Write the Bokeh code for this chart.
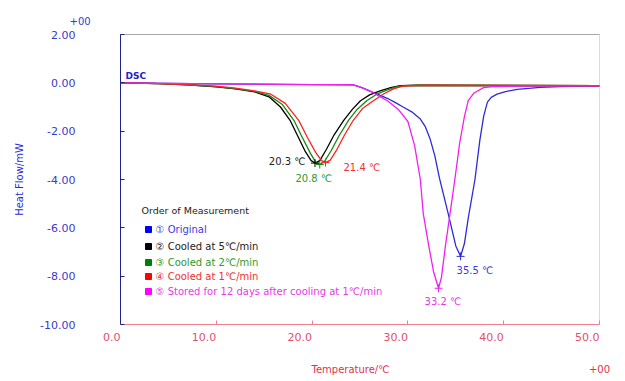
from bokeh.plotting import figure
from bokeh.models import (Range1d, LinearAxis, FixedTicker, NumeralTickFormatter,
                          ColumnDataSource, Grid, Title)
from bokeh.embed import file_html
from bokeh.resources import INLINE
from bokeh.core.properties import value

# ---------------- data ----------------
x_ticks = [0, 10, 20, 30, 40, 50]
y_ticks = [2, 0, -2, -4, -6, -8, -10]
exponent_text = "+00"
x_title = "Temperature/℃"
y_title = "Heat Flow/mW"

series_names = ["① Original", "② Cooled at 5℃/min", "③ Cooled at 2℃/min",
                "④ Cooled at 1℃/min", "⑤ Stored for 12 days after cooling at 1℃/min"]

orig_T = [0, 10, 20, 24.3, 25.2, 26.1, 27.0, 27.9, 28.7, 29.5, 30.4, 31.3, 31.8, 32.3,
          32.8, 33.3, 34.2, 35.0, 35.5, 35.9, 36.3, 37.0, 37.5, 37.9, 38.3, 38.7, 39.3,
          40.2, 41.4, 43.8, 45.9, 50]
orig_HF = [0.0, -0.04, -0.07, -0.08, -0.2, -0.35, -0.5, -0.65, -0.82, -1.0, -1.2, -1.5,
           -1.8, -2.3, -3.0, -3.95, -5.4, -6.75, -7.18, -6.65, -5.6, -4.0, -2.4, -1.4,
           -0.8, -0.6, -0.47, -0.36, -0.27, -0.19, -0.16, -0.13]

c5_T = [0, 4, 7, 10, 12, 14, 15.5, 16.7, 17.7, 18.5, 19.3, 19.9, 20.3, 20.8, 21.5, 22.3,
        23.3, 24.2, 25.05, 26.0, 27.1, 28.2, 29.2, 31, 40, 50]
c5_HF = [0.0, -0.03, -0.08, -0.17, -0.25, -0.37, -0.58, -1.0, -1.55, -2.2, -2.85, -3.22,
         -3.32, -3.22, -2.75, -2.15, -1.55, -1.1, -0.74, -0.5, -0.33, -0.2, -0.12, -0.1,
         -0.11, -0.12]

c2_T = [0, 4, 7, 10, 12, 14, 15.5, 16.9, 18.1, 18.9, 19.8, 20.4, 20.8, 21.3, 22.0, 22.8,
        23.8, 24.7, 25.7, 26.7, 27.8, 28.7, 29.6, 31.5, 40, 50]
c2_HF = [0.0, -0.03, -0.08, -0.16, -0.24, -0.35, -0.52, -0.9, -1.55, -2.2, -2.9, -3.3,
         -3.38, -3.25, -2.8, -2.2, -1.55, -1.1, -0.74, -0.48, -0.3, -0.18, -0.12, -0.1,
         -0.11, -0.12]

c1_T = [0, 4, 7, 10, 12, 14, 15.7, 17.2, 18.6, 19.5, 20.4, 21.0, 21.4, 21.9, 22.6, 23.4,
        24.3, 25.3, 26.4, 27.5, 28.5, 29.3, 30.0, 32, 40, 50]
c1_HF = [0.0, -0.03, -0.07, -0.14, -0.22, -0.33, -0.47, -0.85, -1.55, -2.25, -2.9, -3.22,
         -3.30, -3.2, -2.75, -2.15, -1.55, -1.05, -0.74, -0.45, -0.25, -0.16, -0.12, -0.1,
         -0.11, -0.12]

st_T = [0, 10, 20, 24.3, 25.2, 26.1, 27.0, 27.9, 29.0, 30.0, 30.7, 31.3, 31.6, 32.2, 32.7,
        33.2, 33.5, 33.9, 34.4, 34.9, 35.4, 35.9, 36.3, 36.9, 37.9, 38.9, 42, 50]
st_HF = [0.0, -0.04, -0.07, -0.08, -0.2, -0.35, -0.55, -0.75, -1.1, -1.6, -2.6, -4.0,
         -5.4, -6.8, -7.85, -8.5, -8.05, -6.8, -5.4, -4.0, -2.5, -1.4, -0.74, -0.42,
         -0.2, -0.16, -0.14, -0.13]

peak_T = [35.5, 20.3, 20.8, 21.4, 33.2]
peak_HF = [-7.18, -3.32, -3.38, -3.30, -8.5]
peak_text = ["35.5 ℃", "20.3 ℃", "20.8 ℃", "21.4 ℃", "33.2 ℃"]

# ---------------- style / geometry ----------------
line_colors = ["#2b2bdc", "#000000", "#138a13", "#ff2020", "#f020f0"]
square_colors = ["#0000ff", "#000000", "#008000", "#ff0000", "#ff00ff"]
text_colors = ["#3b3be0", "#222222", "#2e9a2e", "#f03030", "#e838e8"]
FONT = "DejaVu Sans"
BLUE_TXT = "#3a3acc"
RED_TXT = "#e0506e"

W, H = 625, 381
FL, FT, FW, FH = 120, 34, 479, 290
X0, X1 = 0, 50
Y0, Y1 = -10, 2
XS = FW / (X1 - X0)
YS = FH / (Y1 - Y0)


def dx(px):  # page px -> data x
    return X0 + (px - FL) / XS


def dy(py):  # page py -> data y
    return Y1 - (py - FT) / YS


p = figure(width=W, height=H, output_backend="svg", toolbar_location=None,
           x_range=Range1d(X0, X1), y_range=Range1d(Y0, Y1),
           min_border_left=FL, min_border_right=W - FL - FW,
           min_border_top=FT, min_border_bottom=H - FT - FH)
for g in p.select(type=Grid):
    g.visible = False
p.outline_line_color = "#dcdcdc"

# bottom axis: ticks inside, labels hanging just left of each tick
xa = p.xaxis[0]
xa.ticker = FixedTicker(ticks=x_ticks)
xa.formatter = NumeralTickFormatter(format="0.0")
xa.major_tick_in = 4
xa.major_tick_out = 0
xa.minor_tick_line_color = None
xa.major_tick_line_color = "#f08090"
xa.axis_line_color = "#f08090"
xa.major_label_orientation = 0.0001
xa.major_label_standoff = 12
xa.major_label_text_font = FONT
xa.major_label_text_font_size = "11px"
xa.major_label_text_color = RED_TXT

# second row under the axis: title and exponent tag
title_pos = dx(350)
xb = LinearAxis(ticker=FixedTicker(ticks=[title_pos, X1]),
                major_label_overrides={title_pos: x_title, X1: exponent_text},
                axis_line_color=None, major_tick_line_color=None,
                minor_tick_line_color=None, major_label_standoff=10,
                major_label_text_font=FONT, major_label_text_font_size="10px",
                major_label_text_color="#e0304e")
p.add_layout(xb, "below")

ya = p.yaxis[0]
ya.ticker = FixedTicker(ticks=y_ticks)
ya.formatter = NumeralTickFormatter(format="0.00")
ya.major_tick_in = 4
ya.major_tick_out = 0
ya.minor_tick_line_color = None
ya.major_tick_line_color = "#20208c"
ya.axis_line_color = "#20208c"
ya.major_label_text_font = FONT
ya.major_label_text_font_size = "11px"
ya.major_label_text_color = BLUE_TXT
ya.major_label_standoff = 45
ya.axis_label = y_title
ya.axis_label_text_font = FONT
ya.axis_label_text_font_size = "10px"
ya.axis_label_text_font_style = "normal"
ya.axis_label_text_color = "#2a2ae0"
ya.axis_label_standoff = 12

topax = LinearAxis(ticker=FixedTicker(ticks=[]), axis_line_color="#a8a8a8",
                   major_tick_line_color=None, minor_tick_line_color=None,
                   major_label_standoff=0)
p.add_layout(topax, "above")
p.add_layout(Title(text=exponent_text, align="left", offset=-51, standoff=16,
                   vertical_align="top",
                   text_font=FONT, text_font_size="10px", text_font_style="normal",
                   text_color=BLUE_TXT), "above")

# curves
curves = [(orig_T, orig_HF), (c5_T, c5_HF), (c2_T, c2_HF), (c1_T, c1_HF), (st_T, st_HF)]
for (t, h), c in zip(curves, line_colors):
    p.line(t, h, line_color=c, line_width=1.3)

p.scatter(peak_T, peak_HF, marker="cross", size=8, line_color=line_colors, line_width=1)

offsets = [(-4, 14, "left"), (-9.5, -2, "right"), (-6, 13.5, "center"),
           (18, 4.5, "left"), (-14, 13, "left")]
for i, (ox, oy, al) in enumerate(offsets):
    p.text(x=[peak_T[i] + ox / XS], y=[peak_HF[i] - oy / YS], text=[peak_text[i]],
           text_color=text_colors[i], text_font=value(FONT), text_font_size="10px",
           text_align=al, text_baseline="middle")

p.text(x=[dx(125)], y=[dy(75)], text=["DSC"], text_color="#2222cc",
       text_font=value(FONT), text_font_size="9px", text_font_style="bold",
       text_align="left", text_baseline="middle")

# legend
p.text(x=[dx(141)], y=[dy(210)], text=["Order of Measurement"], text_color="#222222",
       text_font=value(FONT), text_font_size="9.5px", text_align="left",
       text_baseline="middle")
row_py = [229, 246, 262, 276, 291]
leg = ColumnDataSource(dict(sx=[dx(148)] * 5, tx=[dx(155)] * 5,
                            y=[dy(v) for v in row_py], text=series_names,
                            tc=text_colors, sc=square_colors))
p.scatter("sx", "y", source=leg, marker="square", size=6, fill_color="sc", line_color="sc")
p.text("tx", "y", text="text", source=leg, text_color="tc", text_font=value(FONT),
       text_font_size="10px", text_align="left", text_baseline="middle")

open("out.html", "w").write(file_html(p, INLINE))
